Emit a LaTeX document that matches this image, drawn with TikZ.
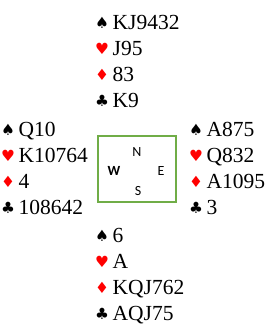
\documentclass[tikz,border=0pt]{standalone}
\usepackage{fontspec}
\setmainfont{Liberation Serif}
\newfontfamily\suitfont{DejaVu Sans}
\newfontfamily\compassfont{Carlito}
\usepackage{xcolor}
\definecolor{tablegreen}{HTML}{70AD47}
\definecolor{suitred}{HTML}{FF0000}

% suit symbols, each in a box of fixed width
\newcommand{\Sp}{\makebox[17.5pt][l]{\suitfont\fontsize{15.5}{15.5}\selectfont\raisebox{1pt}{♠}}}
\newcommand{\Ht}{\makebox[17.5pt][l]{\suitfont\fontsize{15.5}{15.5}\selectfont\color{suitred}\raisebox{1pt}{♥}}}
\newcommand{\Di}{\makebox[17.5pt][l]{\suitfont\fontsize{15.5}{15.5}\selectfont\color{suitred}\raisebox{1pt}{♦}}}
\newcommand{\Cl}{\makebox[17.5pt][l]{\suitfont\fontsize{15.5}{15.5}\selectfont\raisebox{1pt}{♣}}}

\tikzset{
  cards/.style={anchor=base west, inner sep=0pt, font=\fontsize{21.5}{21.5}\selectfont},
  compass/.style={inner sep=0pt, font=\compassfont\fontsize{14}{14}\selectfont},
}

\begin{document}
\begin{tikzpicture}[x=1pt,y=-1pt]
  \useasboundingbox (0,0) rectangle (276,333);

  % 1. North
  \node[cards] (n1) at (95,29)  {\Sp KJ9432};
  \node[cards] (n2) at (95,55)  {\Ht J95};
  \node[cards] (n3) at (95,81)  {\Di 83};
  \node[cards] (n4) at (95,107) {\Cl K9};

  % 2. West
  \node[cards] (w1) at (1,136) {\Sp Q10};
  \node[cards] (w2) at (1,162) {\Ht K10764};
  \node[cards] (w3) at (1,188) {\Di 4};
  \node[cards] (w4) at (1,214) {\Cl 108642};

  % 3. East
  \node[cards] (e1) at (189,136) {\Sp A875};
  \node[cards] (e2) at (189,162) {\Ht Q832};
  \node[cards] (e3) at (189,188) {\Di A1095};
  \node[cards] (e4) at (189,214) {\Cl 3};

  % 4. South
  \node[cards] (s1) at (95,242) {\Sp 6};
  \node[cards] (s2) at (95,268) {\Ht A};
  \node[cards] (s3) at (95,294) {\Di KQJ762};
  \node[cards] (s4) at (95,320) {\Cl AQJ75};

  % 5. Table with compass
  \node[draw=tablegreen, line width=1.5pt, minimum width=78pt, minimum height=66pt,
        inner sep=0pt] (table) at (137,169) {};
  \node[compass] (cn) at (137,152) {N};
  \node[compass] (cs) at (138,191) {S};
  \node[compass, font=\compassfont\bfseries\fontsize{14}{14}\selectfont] (cw) at (114,171) {W};
  \node[compass] (ce) at (161,171) {E};

\end{tikzpicture}
\end{document}
